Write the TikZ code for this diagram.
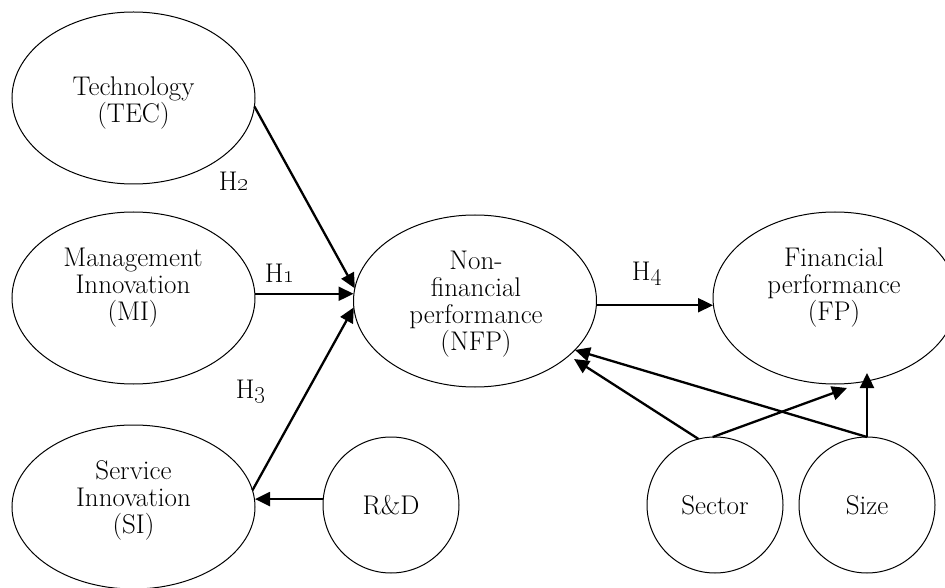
\documentclass[tikz,border=0pt]{standalone}
\usetikzlibrary{arrows.meta,shapes.geometric}
\tikzset{
  txt/.style={font=\fontsize{27}{27}\selectfont, align=center, inner sep=0pt},
  construct/.style={draw, line width=1pt, ellipse, minimum width=243pt,
    minimum height=172pt, inner sep=0pt, outer sep=0pt},
  control/.style={draw, line width=1pt, circle, minimum size=136pt,
    inner sep=0pt, outer sep=0pt, font=\fontsize{27}{27}\selectfont},
  link/.style={line width=2.3pt, -{Triangle[length=15pt,width=14pt]}},
}
\begin{document}
\begin{tikzpicture}[x=1pt,y=-1pt]
\useasboundingbox (0,0) rectangle (945,588);

% latent constructs
\node[construct] (tec) at (133.5,98) {};
\node[txt] at (133.5,103) {Technology\\(TEC)};
\node[construct] (mi) at (133.5,298) {};
\node[txt] at (133,288) {Management\\Innovation\\(MI)};
\node[construct, minimum height=164pt] (si) at (133.5,507) {};
\node[txt] at (133.5,500) {Service\\Innovation\\(SI)};
\node[construct] (nfp) at (475,301) {};
\node[txt] at (476,304) {Non-\\financial\\performance\\(NFP)};
\node[construct, minimum width=244pt] (fp) at (835,298) {};
\node[txt] at (834,288) {Financial\\performance\\(FP)};

% control variables
\node[control] (rd) at (391,505) {R\&D};
\node[control] (sector) at (715,505) {Sector};
\node[control] (size) at (867,505) {Size};

% hypothesis labels
\node[txt] (h1) at (280,273) {H\oldstylenums{1}};
\node[txt] (h2) at (234,181) {H\oldstylenums{2}};
\node[txt] (h3) at (251,392) {H\oldstylenums{3}};
\node[txt] (h4) at (647,274) {H\oldstylenums{4}};

% paths
\draw[link] (tec.-4) -- (nfp.174);
\draw[link] (mi.2) -- (mi.2 -| nfp.west);
\draw[link] (si.8) -- (nfp.183);
\draw[link] (rd.175) -- (rd.175 -| si.east);
\draw[link] (nfp.-2) -- (nfp.-2 -| fp.west);
\draw[link] (sector.104) -- ([shift={(99,58)}]nfp.center);
\draw[link] (size.north) -- ([shift={(100,49)}]nfp.center);
\draw[link] (sector.92) -- ([shift={(12,90)}]fp.center);
\draw[link] (size.north) -- ([shift={(32,75)}]fp.center);
\end{tikzpicture}
\end{document}
